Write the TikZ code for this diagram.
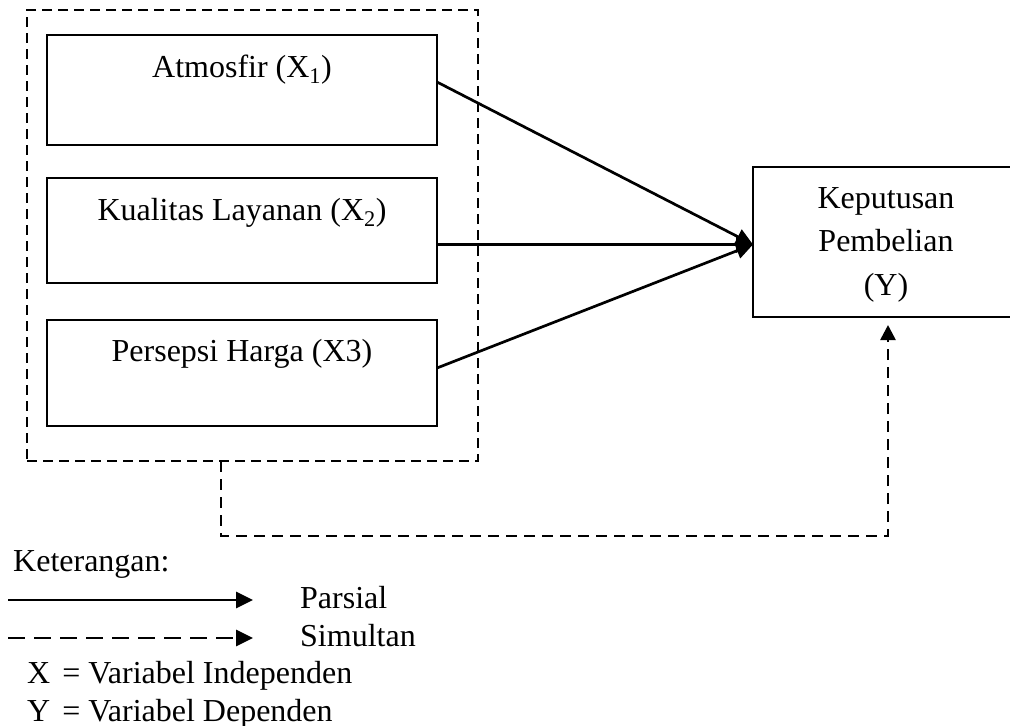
\documentclass[tikz,border=0pt]{standalone}
\usepackage{fontspec}
\setmainfont{Liberation Serif}
\usetikzlibrary{arrows.meta}
\begin{document}
\begin{tikzpicture}[x=1pt,y=-1pt,
  txt/.style={anchor=base,inner sep=0pt,font=\fontsize{32}{38}\selectfont},
  ltxt/.style={anchor=base west,inner sep=0pt,font=\fontsize{32}{38}\selectfont},
  varbox/.style={draw,line width=2.3pt,inner sep=0pt,outer sep=0pt,minimum width=390pt},
  depbox/.style={draw,line width=2.3pt,inner sep=0pt,outer sep=0pt,minimum width=266pt,minimum height=150pt},
  groupbox/.style={draw,line width=2.6pt,dash pattern=on 10pt off 6pt,inner sep=0pt,outer sep=0pt,minimum width=451pt,minimum height=451pt},
  tipA/.tip={Triangle[length=17pt,width=16pt]},
  partial/.style={line width=2.7pt,-tipA},
  simul/.style={line width=2.6pt,dash pattern=on 11pt off 7pt,-{Triangle[length=15pt,width=15pt]}},
  legsimul/.style={line width=2.7pt,dash pattern=on 17pt off 9pt,-tipA}
]
\useasboundingbox (0,0) rectangle (1010,726);
\clip (0,0) rectangle (1010,726);
\fill[white] (0,0) rectangle (1010,726);

% dashed group box
\node[groupbox] (grp) at (252.5,235.5) {};

% independent variable boxes
\node[varbox,minimum height=110pt] (b1) at (242,90) {};
\node[varbox,minimum height=105pt] (b2) at (242,230.5) {};
\node[varbox,minimum height=106pt] (b3) at (242,373) {};
\node[txt] (t1) at (242,77) {Atmosfir (X\textsubscript{1})};
\node[txt] (t2) at (242,220) {Kualitas Layanan (X\textsubscript{2})};
\node[txt] (t3) at (242,361) {Persepsi Harga (X3)};

% dependent variable box
\node[depbox] (y) at (886,242) {};
\node[txt] (ty1) at (886,208) {Keputusan};
\node[txt] (ty2) at (886,251) {Pembelian};
\node[txt] (ty3) at (886,295) {(Y)};

% partial arrows
\draw[partial] ([yshift=8pt]b1.east) -- ([yshift=-2.5pt]y.west);
\draw[partial] ([yshift=-14pt]b2.east) -- ([yshift=-2.5pt]y.west);
\draw[partial] ([yshift=5pt]b3.east) -- ([yshift=-2.5pt]y.west);

% simultaneous connector
\coordinate (c1) at (221,461);
\coordinate (c2) at (221,536);
\coordinate (c3) at (888,536);
\coordinate (c4) at (888,325);
\draw[simul] (c1) -- (c2) -- (c3) -- (c4);

% legend
\node[ltxt] (ket) at (13,571) {Keterangan:};
\coordinate (l1a) at (8,600);
\coordinate (l1b) at (253,600);
\draw[partial] (l1a) -- (l1b);
\node[ltxt] (lp) at (300,608) {Parsial};
\coordinate (l2a) at (8,638);
\coordinate (l2b) at (253,638);
\draw[legsimul] (l2a) -- (l2b);
\node[ltxt] (ls) at (300,646) {Simultan};
\node[ltxt] (lx) at (27,683) {X\hspace{12pt}= Variabel Independen};
\node[ltxt] (lyy) at (27,721) {Y\hspace{12pt}= Variabel Dependen};
\end{tikzpicture}
\end{document}
